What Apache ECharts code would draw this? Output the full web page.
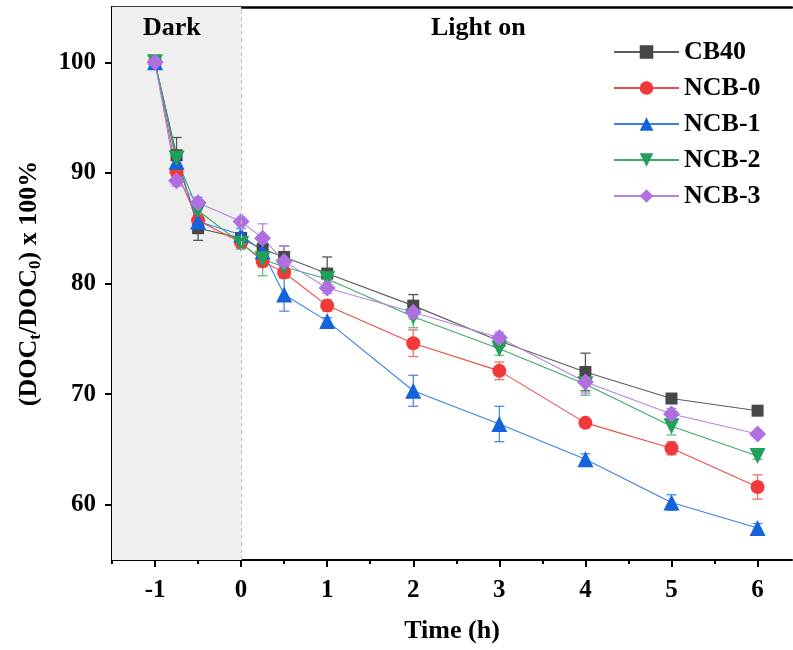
<!DOCTYPE html>
<html>
<head>
<meta charset="utf-8">
<script src="https://cdn.jsdelivr.net/npm/echarts@6/dist/echarts.min.js"></script>
<style>
  html, body { margin: 0; padding: 0; background: #fff; }
  #chart { width: 793px; height: 650px; }
</style>
</head>
<body>
<div id="chart"></div>
<script>
// Sampling times (h); negative times are the dark adsorption stage
const time = [-1, -0.75, -0.5, 0, 0.25, 0.5, 1, 2, 3, 4, 5, 6];

// DOC_t / DOC_0 x 100 (%)
const cb40 = [100, 91.6, 85.0, 84.1, 83.1, 82.4, 80.9, 78.0, 74.8, 72.0, 69.6, 68.5];
const ncb0 = [100, 90.1, 85.7, 83.7, 82.0, 81.0, 78.0, 74.6, 72.1, 67.4, 65.1, 61.6];
const ncb1 = [100, 91.0, 85.6, 84.4, 82.9, 79.0, 76.6, 70.3, 67.3, 64.1, 60.2, 57.9];
const ncb2 = [100, 91.3, 86.6, 83.6, 82.2, 81.5, 80.4, 77.0, 74.1, 70.9, 67.1, 64.4];
const ncb3 = [100, 89.3, 87.3, 85.6, 84.1, 82.0, 79.6, 77.4, 75.1, 71.1, 68.2, 66.4];

// Standard deviations
const cb40Err = [0, 1.6, 1.1, 0.5, 0.8, 1.0, 1.5, 1.0, 0.5, 1.7, 0.3, 0.2];
const ncb0Err = [0, 0.5, 0.5, 0.5, 0.5, 0.5, 0.5, 1.2, 0.8, 0.3, 0.6, 1.1];
const ncb1Err = [0, 0.5, 0.5, 0.6, 0.8, 1.5, 0.3, 1.4, 1.6, 0.5, 0.7, 0.4];
const ncb2Err = [0, 0.6, 0.8, 0.5, 1.5, 1.0, 0.8, 1.0, 0.6, 1.0, 0.8, 0.3];
const ncb3Err = [0, 0.5, 0.5, 0.3, 1.3, 1.4, 0.5, 0.6, 0.5, 1.0, 0.5, 0.2];

// Axis ticks
const xMajor = [-1, 0, 1, 2, 3, 4, 5, 6];
const xMinor = [-1.5, -0.5, 0.5, 1.5, 2.5, 3.5, 4.5, 5.5];
const yMajor = [60, 70, 80, 90, 100];
const yMinor = [65, 75, 85, 95];

const FONT = '"Liberation Serif", "Times New Roman", serif';

const samples = [
  { name: 'CB40',  values: cb40, err: cb40Err, symbol: 'rect',     size: 12, rotate: 0,   fill: '#474747', line: '#5c5c5c', bar: '#555555' },
  { name: 'NCB-0', values: ncb0, err: ncb0Err, symbol: 'circle',   size: 14, rotate: 0,   fill: '#f03a3a', line: '#ef4a4a', bar: '#f07070' },
  { name: 'NCB-1', values: ncb1, err: ncb1Err, symbol: 'triangle', size: 16, rotate: 0,   fill: '#1463dc', line: '#3a80e2', bar: '#4a8ae6' },
  { name: 'NCB-2', values: ncb2, err: ncb2Err, symbol: 'triangle', size: 16, rotate: 180, fill: '#20a058', line: '#3aac68', bar: '#5cbf86' },
  { name: 'NCB-3', values: ncb3, err: ncb3Err, symbol: 'diamond',  size: 17, rotate: 0,   fill: '#b06fe0', line: '#b383e2', bar: '#b88ae4' }
];

function errorBarRenderer(color) {
  return function (params, api) {
    const x = api.value(0), y = api.value(1), e = api.value(2);
    if (!e) return null;
    const hi = api.coord([x, y + e]);
    const lo = api.coord([x, y - e]);
    const w = 5;
    const style = { stroke: color, lineWidth: 1.3 };
    return {
      type: 'group',
      children: [
        { type: 'line', shape: { x1: hi[0], y1: hi[1], x2: lo[0], y2: lo[1] }, style: style },
        { type: 'line', shape: { x1: hi[0] - w, y1: hi[1], x2: hi[0] + w, y2: hi[1] }, style: style },
        { type: 'line', shape: { x1: lo[0] - w, y1: lo[1], x2: lo[0] + w, y2: lo[1] }, style: style }
      ]
    };
  };
}

const series = [];

// Shaded dark stage and the light-on boundary
series.push({
  type: 'line',
  name: 'stage',
  data: [],
  silent: true,
  z: 1,
  markArea: {
    silent: true,
    itemStyle: { color: '#efefef' },
    data: [[{ xAxis: -1.5 }, { xAxis: 0 }]]
  },
  markLine: {
    silent: true,
    symbol: 'none',
    label: { show: false },
    lineStyle: { color: '#c4c4c4', type: [4, 3], width: 1 },
    data: [{ xAxis: 0 }]
  }
});

samples.forEach(function (s) {
  series.push({
    type: 'custom',
    name: s.name + ' SD',
    renderItem: errorBarRenderer(s.bar),
    data: time.map(function (t, i) { return [t, s.values[i], s.err[i]]; }),
    encode: { x: 0, y: 1 },
    z: 3,
    silent: true
  });
  series.push({
    type: 'line',
    name: s.name,
    data: time.map(function (t, i) { return [t, s.values[i]]; }),
    symbol: s.symbol,
    symbolSize: s.size,
    symbolRotate: s.rotate,
    showAllSymbol: true,
    itemStyle: { color: s.fill, borderWidth: 0 },
    lineStyle: { color: s.line, width: 1.1 },
    z: 4,
    animation: false
  });
});

const chart = echarts.init(document.getElementById('chart'), null, { renderer: 'canvas' });

chart.setOption({
  animation: false,
  backgroundColor: '#ffffff',
  grid: { left: 112, right: 1, top: 7, bottom: 90, containLabel: false },
  legend: {
    data: samples.map(function (s) { return s.name; }),
    orient: 'vertical',
    left: 608,
    top: 34,
    itemWidth: 65,
    itemHeight: 17,
    itemGap: 10,
    textStyle: { fontFamily: FONT, fontWeight: 'bold', fontSize: 26, color: '#000' }
  },
  xAxis: [
    {
      type: 'value', min: -1.5, max: 6.4, position: 'bottom',
      name: 'Time (h)', nameLocation: 'middle', nameGap: 58,
      nameTextStyle: { fontFamily: FONT, fontWeight: 'bold', fontSize: 26, color: '#000' },
      axisLine: { show: true, onZero: false, lineStyle: { color: '#000', width: 2 } },
      axisTick: { show: true, customValues: xMajor, length: 7, lineStyle: { color: '#000', width: 2 } },
      axisLabel: { customValues: xMajor, fontFamily: FONT, fontWeight: 'bold', fontSize: 25, color: '#000', margin: 18 },
      splitLine: { show: false }
    },
    {
      type: 'value', min: -1.5, max: 6.4, position: 'bottom',
      axisLine: { show: false },
      axisTick: { show: true, customValues: xMinor, length: 4, lineStyle: { color: '#000', width: 2 } },
      axisLabel: { show: false },
      splitLine: { show: false }
    },
    {
      type: 'value', min: -1.5, max: 6.4, position: 'top',
      axisLine: { show: true, onZero: false, lineStyle: { color: '#000', width: 2.5 } },
      axisTick: { show: false },
      axisLabel: { show: false },
      splitLine: { show: false }
    }
  ],
  yAxis: [
    {
      type: 'value', min: 55, max: 105, position: 'left',
      name: '(DOC{sub|t}/DOC{sub|0}) x 100%',
      nameLocation: 'middle', nameGap: 68, nameRotate: 90,
      nameTextStyle: {
        fontFamily: FONT, fontWeight: 'bold', fontSize: 26, color: '#000',
        rich: {
          sub: { fontFamily: FONT, fontWeight: 'bold', fontSize: 17, color: '#000', padding: [12, 0, 0, 0] }
        }
      },
      axisLine: { show: true, onZero: false, lineStyle: { color: '#000', width: 2 } },
      axisTick: { show: true, customValues: yMajor, length: 7, lineStyle: { color: '#000', width: 2 } },
      axisLabel: { customValues: yMajor, fontFamily: FONT, fontWeight: 'bold', fontSize: 25, color: '#000', margin: 16 },
      splitLine: { show: false }
    },
    {
      type: 'value', min: 55, max: 105, position: 'left',
      axisLine: { show: false },
      axisTick: { show: true, customValues: yMinor, length: 4, lineStyle: { color: '#000', width: 2 } },
      axisLabel: { show: false },
      splitLine: { show: false }
    }
  ],
  graphic: [
    { type: 'text', z: 100, left: 143, top: 15, style: { text: 'Dark', font: 'bold 26px ' + FONT, fill: '#000' } },
    { type: 'text', z: 100, left: 431, top: 15, style: { text: 'Light on', font: 'bold 26px ' + FONT, fill: '#000' } }
  ],
  series: series
});
</script>
</body>
</html>
